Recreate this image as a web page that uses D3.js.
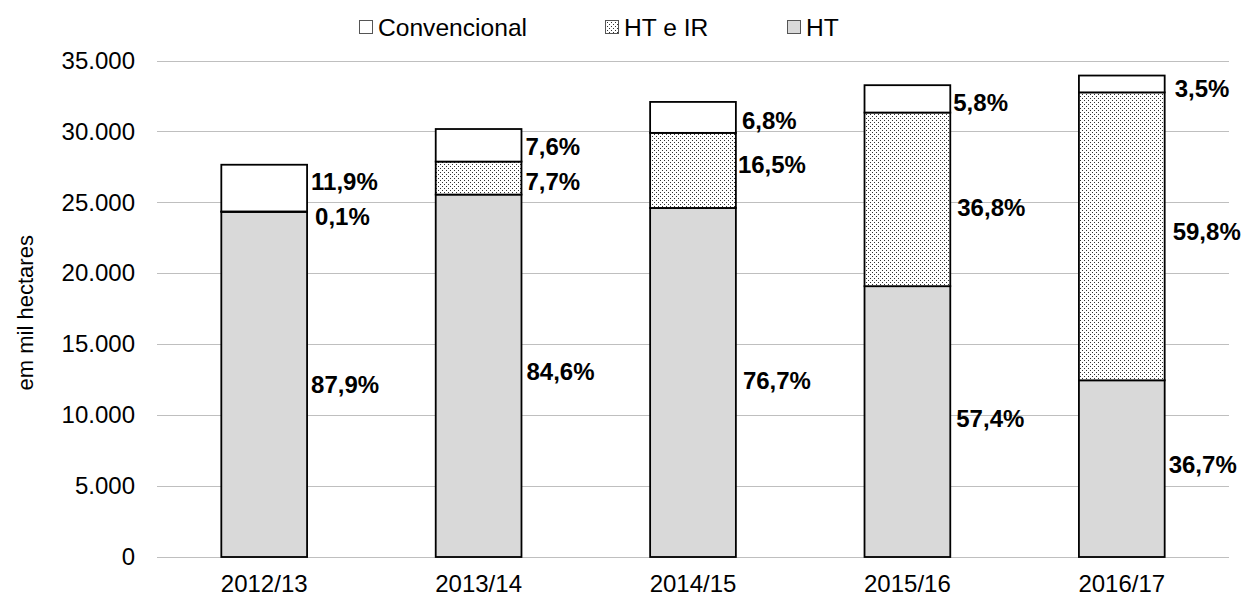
<!DOCTYPE html>
<html>
<head>
<meta charset="utf-8">
<script src="https://cdn.jsdelivr.net/npm/d3@7"></script>
<style>
	body { margin: 0; background: #fff; }
	text { font-family: "Liberation Sans", Arial, sans-serif; }
</style>
</head>
<body>
<svg class="chart"></svg>
<script>
// safras e areas totais (mil hectares)
var seasons = ['2012/13', '2013/14', '2014/15', '2015/16', '2016/17'];
var totals = [27680, 30200, 32080, 33260, 33940];

// participacao de cada tipo (%), de baixo para cima
var pctHT = [87.9, 84.6, 76.7, 57.4, 36.7];
var pctHTIR = [0.1, 7.7, 16.5, 36.8, 59.8];
var pctConv = [11.9, 7.6, 6.8, 5.8, 3.5];

var yTicks = [0, 5000, 10000, 15000, 20000, 25000, 30000, 35000];

var seriesNames = ['HT', 'HT e IR', 'Convencional'];
var legendOrder = ['Convencional', 'HT e IR', 'HT'];

// pequenos ajustes de posicao dos rotulos (px), como no original
var labelDx = {
	'HT': [4, 5, 7, 6, 4],
	'HT e IR': [8, 4, 2, 7, 8],
	'Convencional': [4, 4, 6, 3, 10]
};
var labelDy = {
	'HT': [0, -4, -2, -3, -4],
	'HT e IR': [5, 3, -6, 8, -5],
	'Convencional': [-7, 1, 3, 4, 5]
};

var width = 1242, height = 597;
var margin = {top: 60.5, right: 13, bottom: 40, left: 157};

var locale = d3.formatLocale({decimal: ',', thousands: '.', grouping: [3], currency: ['', '']});
var fmtTick = locale.format(',d');
var fmtPct = function(v) { return locale.format('.1f')(v) + '%'; };

var svg = d3.select('svg.chart')
	.attr('width', width)
	.attr('height', height);

var defs = svg.append('defs');
var pat = defs.append('pattern')
	.attr('id', 'dots')
	.attr('patternUnits', 'userSpaceOnUse')
	.attr('width', 4)
	.attr('height', 4);
pat.append('rect').attr('width', 4).attr('height', 4).attr('fill', '#fff');
pat.append('rect').attr('x', 0).attr('y', 0).attr('width', 1).attr('height', 1).attr('fill', '#333');
pat.append('rect').attr('x', 2).attr('y', 2).attr('width', 1).attr('height', 1).attr('fill', '#333');

var fills = {'HT': '#d9d9d9', 'HT e IR': 'url(#dots)', 'Convencional': '#fff'};

var x = d3.scaleBand()
	.domain(seasons)
	.range([margin.left, width - margin.right])
	.paddingInner(0.6)
	.paddingOuter(0.3);

var y = d3.scaleLinear()
	.domain([0, 35000])
	.range([height - margin.bottom, margin.top]);

// linhas de grade
svg.append('g')
	.selectAll('line')
	.data(yTicks)
	.enter()
	.append('line')
		.attr('x1', margin.left)
		.attr('x2', width - margin.right)
		.attr('y1', function(d) { return Math.round(y(d)) + 0.5; })
		.attr('y2', function(d) { return Math.round(y(d)) + 0.5; })
		.attr('stroke', '#bfbfbf')
		.attr('stroke-width', 1);

// eixo y
var yAxis = d3.axisLeft(y).tickValues(yTicks).tickFormat(fmtTick).tickSize(0).tickPadding(22);
var gy = svg.append('g')
	.attr('transform', 'translate(' + margin.left + ',0)')
	.call(yAxis);
gy.select('.domain').remove();
gy.selectAll('text')
	.attr('font-size', 24)
	.attr('fill', '#000')
	.attr('font-family', '"Liberation Sans", Arial, sans-serif');

// eixo x
var xAxis = d3.axisBottom(x).tickSize(0).tickPadding(18);
var gx = svg.append('g')
	.attr('transform', 'translate(0,' + (height - margin.bottom) + ')')
	.call(xAxis);
gx.select('.domain').remove();
gx.selectAll('text')
	.attr('font-size', 24)
	.attr('fill', '#000')
	.attr('font-family', '"Liberation Sans", Arial, sans-serif');

// titulo do eixo y
svg.append('text')
	.attr('transform', 'translate(25,' + ((margin.top + height - margin.bottom) / 2 + 4) + ') rotate(-90)')
	.attr('text-anchor', 'middle')
	.attr('dominant-baseline', 'central')
	.attr('font-size', 22)
	.text('em mil hectares');

// montar dados empilhados
var pcts = {'HT': pctHT, 'HT e IR': pctHTIR, 'Convencional': pctConv};
var table = seasons.map(function(s, i) {
	var row = {season: s};
	seriesNames.forEach(function(n) { row[n] = totals[i] * pcts[n][i] / 100; });
	return row;
});
var stacked = d3.stack().keys(seriesNames)(table);

var layers = svg.append('g')
	.selectAll('g.layer')
	.data(stacked)
	.enter()
	.append('g')
		.attr('class', 'layer');

layers.selectAll('rect')
	.data(function(d) { return d.map(function(p) { return {key: d.key, p: p}; }); })
	.enter()
	.append('rect')
		.attr('x', function(d) { return x(d.p.data.season); })
		.attr('y', function(d) { return y(d.p[1]); })
		.attr('width', x.bandwidth())
		.attr('height', function(d) { return y(d.p[0]) - y(d.p[1]); })
		.attr('fill', function(d) { return fills[d.key]; })
		.attr('stroke', '#000')
		.attr('stroke-width', 1.8);

// rotulos de porcentagem
layers.selectAll('text')
	.data(function(d) { return d.map(function(p, i) { return {key: d.key, p: p, i: i}; }); })
	.enter()
	.append('text')
		.attr('x', function(d) { return x(d.p.data.season) + x.bandwidth() + labelDx[d.key][d.i]; })
		.attr('y', function(d) { return y((d.p[0] + d.p[1]) / 2) + labelDy[d.key][d.i]; })
		.attr('dominant-baseline', 'central')
		.attr('font-size', 24)
		.attr('font-weight', 'bold')
		.text(function(d) { return fmtPct(pcts[d.key][d.i]); });

// legenda
var legendX = {'Convencional': 359, 'HT e IR': 605, 'HT': 787};
var legend = svg.append('g')
	.selectAll('g')
	.data(legendOrder)
	.enter()
	.append('g')
		.attr('transform', function(d) { return 'translate(' + legendX[d] + ',0)'; });
legend.append('rect')
	.attr('x', 0.5)
	.attr('y', 20.5)
	.attr('width', 13)
	.attr('height', 13)
	.attr('fill', function(d) { return fills[d]; })
	.attr('stroke', '#555')
	.attr('stroke-width', 1);
legend.append('text')
	.attr('x', 19)
	.attr('y', 35.5)
	.attr('font-size', 24.6)
	.text(function(d) { return d; });
</script>
</body>
</html>
